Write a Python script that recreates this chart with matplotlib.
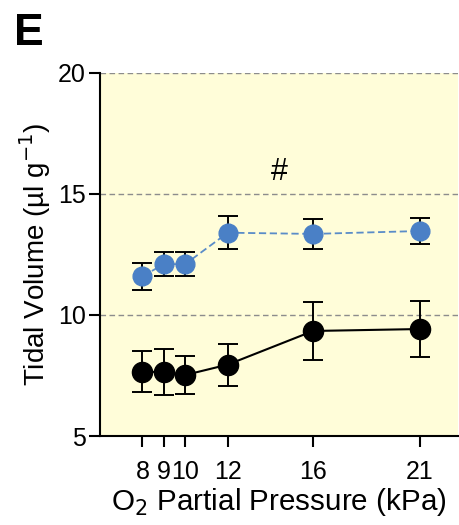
import numpy as np
import matplotlib.pyplot as plt

plt.rcParams['font.family'] = ['Liberation Sans', 'DejaVu Sans']

# O2 partial pressure (kPa)
o2 = [8, 9, 10, 12, 16, 21]

# tidal volume, blue series (upper) and black series (lower)
vt_blue = [11.6, 12.1, 12.1, 13.4, 13.35, 13.47]
err_blue = [0.55, 0.5, 0.5, 0.68, 0.62, 0.52]
vt_black = [7.65, 7.65, 7.52, 7.95, 9.34, 9.42]
err_black = [0.85, 0.95, 0.78, 0.87, 1.2, 1.16]

xticks = [8, 9, 10, 12, 16, 21]
xticklabels = ['8', '9', '10', '12', '16', '21']
yticks = [5, 10, 15, 20]

fig = plt.figure(figsize=(4.6, 5.25), dpi=100)
ax = fig.add_axes([0.217, 0.1695, 0.779, 0.6915])
ax.set_facecolor('#fffdd9')

for y in [10, 15, 20]:
    ax.axhline(y, color='#8c8c8c', lw=1.0, ls=(0, (4, 2.5)), zorder=1)

# blue series: dashed connecting line
ax.plot(o2, vt_blue, color='#5a8cc8', ls=(0, (4, 2)), lw=1.3, zorder=2)
ax.errorbar(o2, vt_blue, yerr=err_blue, fmt='o', color='#4a80c6',
            ms=13.5, ecolor='black', elinewidth=1.4, capsize=7.5, capthick=1.4,
            zorder=3)

# black series: solid connecting line
ax.errorbar(o2, vt_black, yerr=err_black, fmt='o-', color='black',
            ms=14.5, ecolor='black', elinewidth=1.4, capsize=7.5, capthick=1.4,
            lw=1.5, zorder=3)

ax.text(14.4, 15.9, '#', fontsize=22, ha='center', va='center')

ax.set_xlim(6, 22.8)
ax.set_ylim(5, 20)
ax.set_xticks(xticks)
ax.set_xticklabels(xticklabels)
ax.set_yticks(yticks)

for s in ['top', 'right']:
    ax.spines[s].set_visible(False)
ax.spines['left'].set_linewidth(1.5)
ax.spines['bottom'].set_linewidth(1.5)
ax.tick_params(axis='y', length=8, width=1.5, labelsize=18, pad=2)
ax.tick_params(axis='x', length=8, width=1.5, labelsize=18, pad=9)

ax.set_ylabel('Tidal Volume (\u00b5l g$^{-1}$)', fontsize=20, labelpad=4)
ax.set_xlabel('O$_2$ Partial Pressure (kPa)', fontsize=21.3, labelpad=2)

fig.text(0.03, 0.914, 'E', fontsize=32, fontweight='bold', va='baseline', ha='left')

fig.savefig('out.png', dpi=100)
